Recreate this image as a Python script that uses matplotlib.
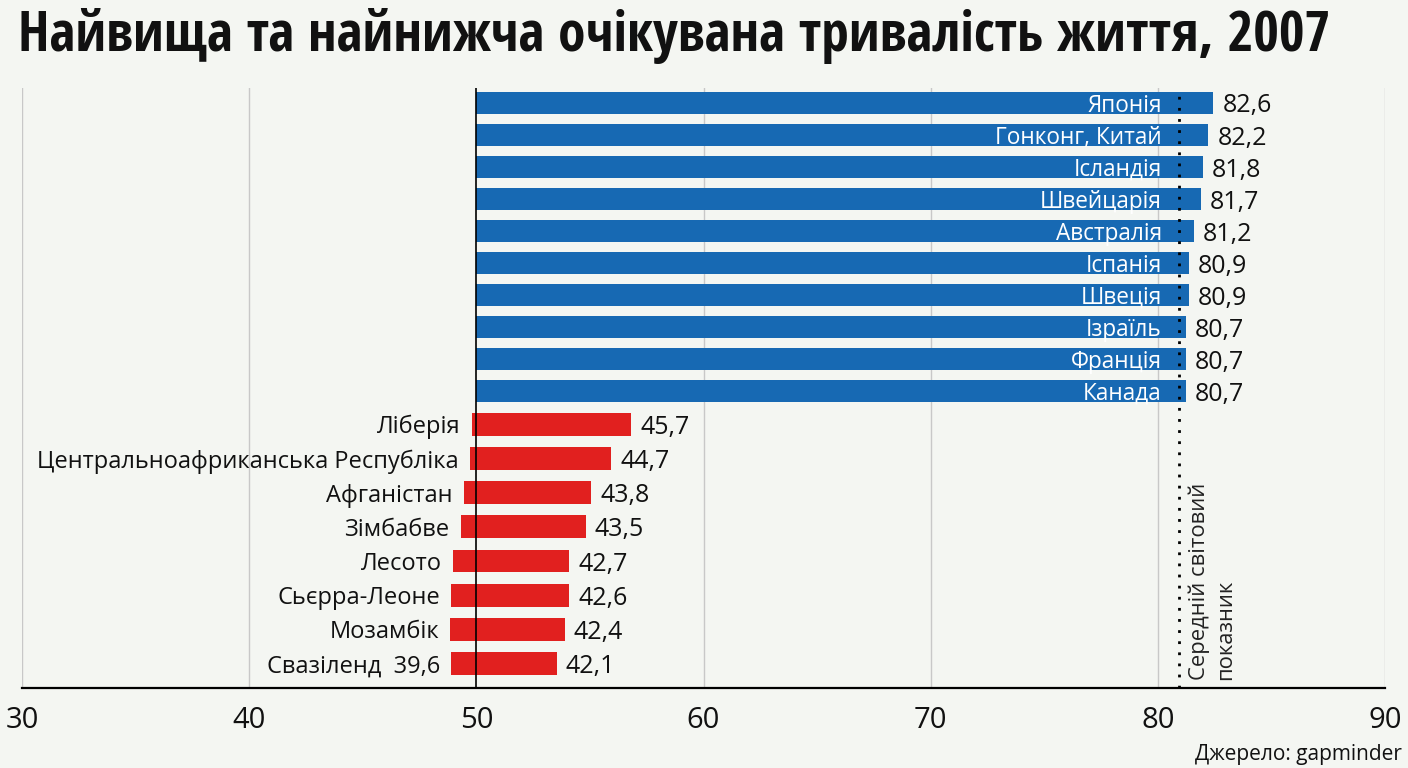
import matplotlib
matplotlib.use("Agg")
import matplotlib.pyplot as plt

plt.rcParams['font.family'] = ['Open Sans', 'DejaVu Sans']

# top 10 countries (blue) and bottom 8 (red), life expectancy 2007
high_names = ['Японія', 'Гонконг, Китай', 'Ісландія', 'Швейцарія', 'Австралія',
              'Іспанія', 'Швеція', 'Ізраїль', 'Франція', 'Канада']
high_values = [82.6, 82.2, 81.8, 81.7, 81.2, 80.9, 80.9, 80.7, 80.7, 80.7]
# where the bars end in the picture (axis units)
high_bar_end = [82.44, 82.22, 81.97, 81.89, 81.60, 81.38, 81.38, 81.24, 81.24, 81.24]

low_names = ['Ліберія', 'Центральноафриканська Республіка', 'Афганістан', 'Зімбабве',
             'Лесото', 'Сьєрра-Леоне', 'Мозамбік', 'Свазіленд']
low_values = [45.7, 44.7, 43.8, 43.5, 42.7, 42.6, 42.4, 42.1]
low_extra = [None, None, None, None, None, None, None, 39.6]
# the red bars in the picture are not drawn on the axis scale: start / end as read
low_bar_start = [49.80, 49.72, 49.44, 49.31, 48.96, 48.88, 48.85, 48.90]
low_bar_end = [56.81, 55.93, 55.05, 54.81, 54.09, 54.09, 53.90, 53.54]

world_mean = 80.94
base = 50
x_ticks = [30, 40, 50, 60, 70, 80, 90]

BG = '#f4f6f2'
BLUE = '#1769b3'
RED = '#e1201f'
TXT = '#111111'


def fmt(v):
    return f"{v:.1f}".replace('.', ',')


def main():
    fig = plt.figure(figsize=(14.08, 7.68), dpi=100, facecolor=BG)
    ax = fig.add_axes([22 / 1408, 1 - 688 / 768, 1363 / 1408, 600 / 768])
    ax.set_facecolor(BG)

    # row spacing is a little tighter for the blue group than for the red one
    rows_high = [i * 0.97 for i in range(len(high_names))]
    rows_low = [9.736 + i * 1.036 for i in range(len(low_names))]

    ax.set_xlim(30, 90)
    ax.set_ylim(17.727, -0.4545)

    # grid
    for t in x_ticks:
        if t == base:
            ax.axvline(t, color='black', lw=1.2, zorder=3)
        else:
            ax.axvline(t, color='#c8c8c8', lw=1.0, zorder=1)

    ax.barh(rows_high, [e - base for e in high_bar_end], left=base,
            height=0.68, color=BLUE, zorder=2)
    ax.barh(rows_low, [e - s for s, e in zip(low_bar_start, low_bar_end)],
            left=low_bar_start, height=0.69, color=RED, zorder=2)

    # labels - high
    for r, name, v, e in zip(rows_high, high_names, high_values, high_bar_end):
        ax.text(80.18, r, name, ha='right', va='center_baseline',
                color='white', fontsize=16.3, zorder=5)
        ax.annotate(fmt(v), xy=(e, r), xytext=(9, 0), textcoords='offset pixels',
                    ha='left', va='center_baseline', color=TXT, fontsize=18, zorder=5)

    # labels - low
    for r, name, v, extra, s, e in zip(rows_low, low_names, low_values, low_extra,
                                       low_bar_start, low_bar_end):
        label = name if extra is None else name + '  ' + fmt(extra)
        ax.annotate(label, xy=(s, r), xytext=(-11, 0), textcoords='offset pixels',
                    ha='right', va='center_baseline', color=TXT, fontsize=17, zorder=5)
        ax.annotate(fmt(v), xy=(e, r), xytext=(9, 0), textcoords='offset pixels',
                    ha='left', va='center_baseline', color=TXT, fontsize=18, zorder=5)

    # world average
    ax.axvline(world_mean, color='black', lw=2, linestyle=(0, (1, 3)), zorder=4)
    ax.text(81.33, 17.48, 'Середній світовий\nпоказник', rotation=90,
            ha='left', va='bottom', multialignment='left', linespacing=1.35,
            color='#222222', fontsize=15.8, zorder=5)

    for s in ['top', 'right', 'left']:
        ax.spines[s].set_visible(False)
    ax.spines['bottom'].set_linewidth(1.6)
    ax.spines['bottom'].set_color('black')
    ax.set_yticks([])
    ax.set_xticks(x_ticks)
    ax.set_xticklabels([str(t) for t in x_ticks])
    ax.tick_params(axis='x', length=0, pad=13, labelsize=21, labelcolor=TXT)

    fig.text(18 / 1408, 1 - 51 / 768, 'Найвища та найнижча очікувана тривалість життя, 2007',
             ha='left', va='baseline', fontsize=40, fontweight='bold', color=TXT,
             family=['Open Sans Condensed', 'Open Sans', 'DejaVu Sans'])
    fig.text(1402 / 1408, 1 - 760 / 768, 'Джерело: gapminder', ha='right',
             va='baseline', fontsize=15, color=TXT)

    fig.savefig('out.png', dpi=100, facecolor=BG)


if __name__ == '__main__':
    main()
